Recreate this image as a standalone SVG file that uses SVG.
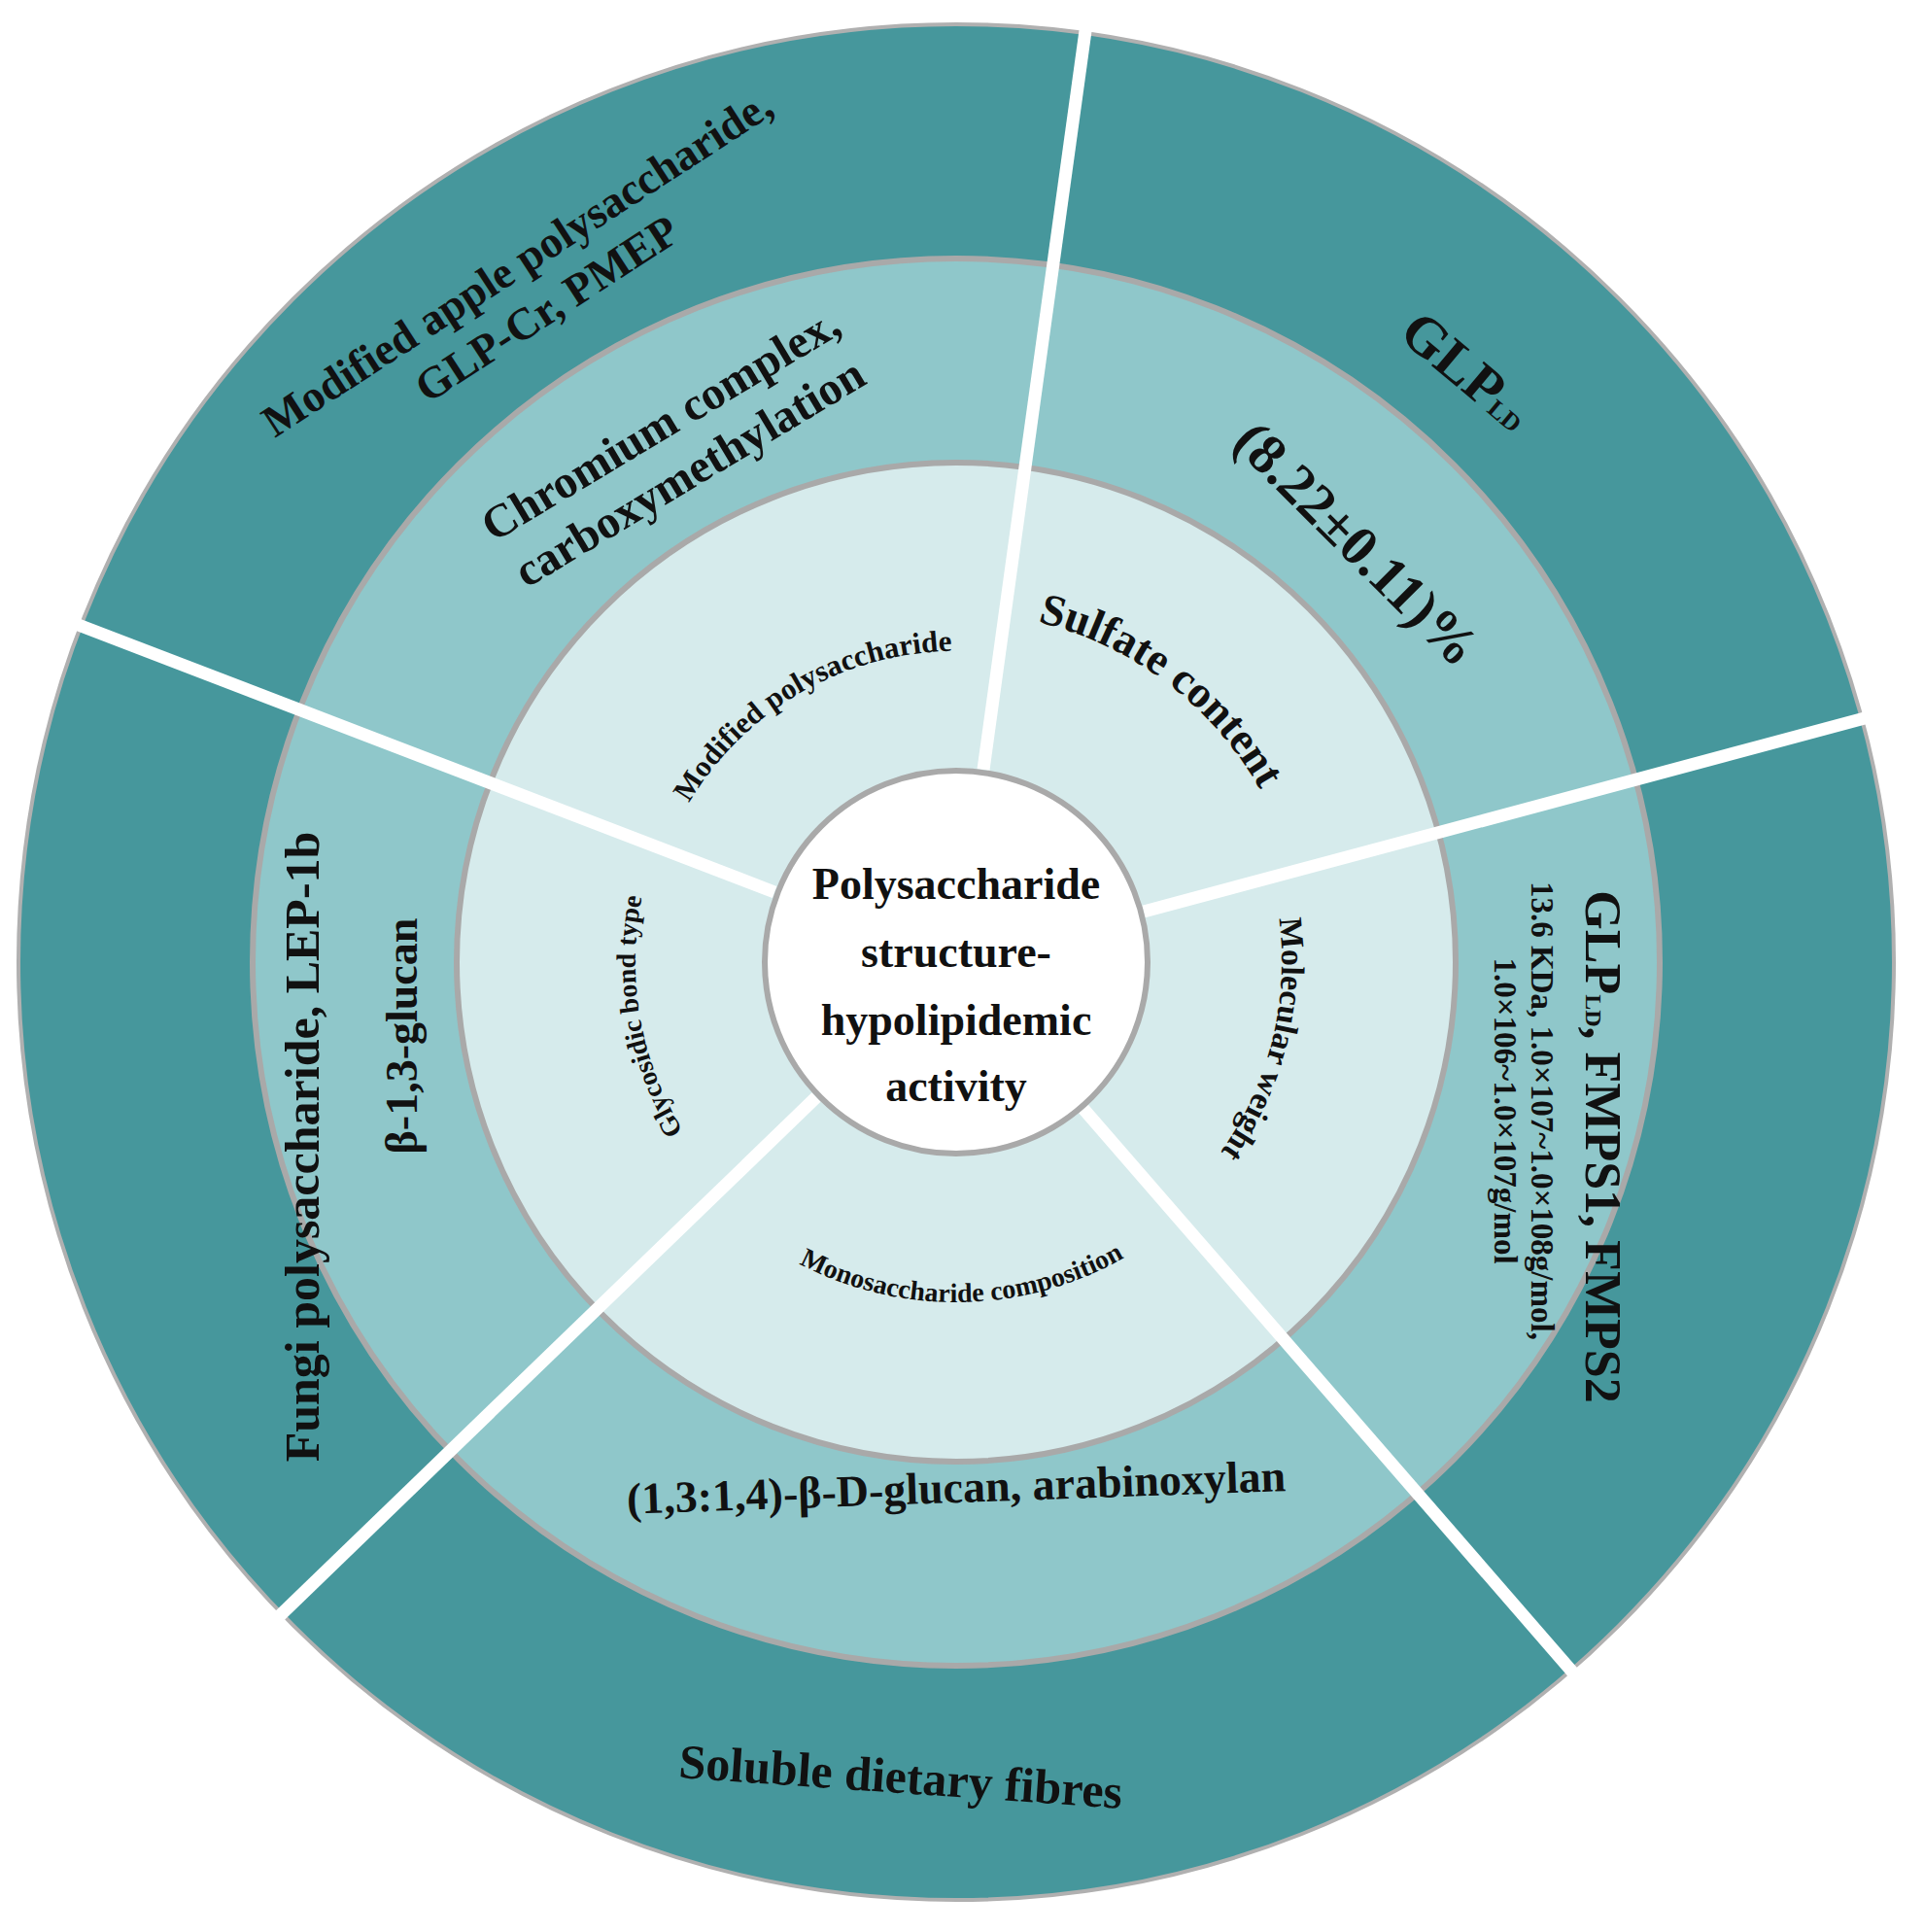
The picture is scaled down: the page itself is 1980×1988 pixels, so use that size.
<svg xmlns="http://www.w3.org/2000/svg" xmlns:xlink="http://www.w3.org/1999/xlink" width="1980" height="1988" viewBox="0 0 1980 1988">
<style>
text{font-family:"Liberation Serif","Times New Roman",serif;font-weight:bold;fill:#111}
.sep{stroke:#fff;stroke-width:13;stroke-linecap:butt}
</style>
<defs>
<path id="p1" d="M669,934 A320,320 0 0 1 1093,689"/>
<path id="p2" d="M903,639 A360,360 0 0 1 1343,971"/>
<path id="p3" d="M1255,793 A335,335 0 0 1 1131,1291"/>
<path id="p4" d="M819,1276 A330,330 0 0 1 731,778"/>
<path id="p5" d="M720,1220 A350,350 0 0 0 1256,1210"/>
</defs>
<rect width="1980" height="1988" fill="#fff"/>
<g id="rings">
<circle cx="984" cy="990" r="965" fill="#46979c" stroke="#b0b0b0" stroke-width="4"/>
<circle cx="984" cy="990" r="724" fill="#8fc7ca" stroke="#a9a9a9" stroke-width="6"/>
<circle cx="984" cy="990" r="514" fill="#d6ebec" stroke="#a9a9a9" stroke-width="6"/>
</g>
<g id="connectors">
<line class="sep" x1="1012" y1="792" x2="1120" y2="10"/>
<line class="sep" x1="1177" y1="938" x2="1945" y2="732"/>
<line class="sep" x1="1115" y1="1141" x2="1630" y2="1734"/>
<line class="sep" x1="840" y1="1129" x2="275" y2="1675"/>
<line class="sep" x1="797" y1="918" x2="65" y2="637"/>
</g>
<g id="center">
<circle cx="984" cy="990" r="197" fill="#fff" stroke="#a9a9a9" stroke-width="6"/>
<text text-anchor="middle" font-size="46"><tspan x="984" y="925">Polysaccharide</tspan><tspan x="984" y="995">structure-</tspan><tspan x="984" y="1065">hypolipidemic</tspan><tspan x="984" y="1133">activity</tspan></text>
</g>
<g id="seg-modified">
<text font-size="31"><textPath href="#p1" xlink:href="#p1" startOffset="50%" text-anchor="middle">Modified polysaccharide</textPath></text>
<text transform="translate(692,457) rotate(-31)" text-anchor="middle" font-size="48"><tspan x="0" y="-8">Chromium complex,</tspan><tspan x="0" y="50">carboxymethylation</tspan></text>
<text transform="translate(546,292) rotate(-33)" text-anchor="middle" font-size="46"><tspan x="0" y="-10">Modified apple polysaccharide,</tspan><tspan x="0" y="46">GLP-Cr, PMEP</tspan></text>
</g>
<g id="seg-sulfate">
<text font-size="46"><textPath href="#p2" xlink:href="#p2" startOffset="50%" text-anchor="middle">Sulfate content</textPath></text>
<text transform="translate(1397,559) rotate(45)" text-anchor="middle" font-size="58" y="20">(8.22±0.11)%</text>
<text transform="translate(1510,381) rotate(40)" text-anchor="middle" font-size="58" y="20">GLP<tspan font-size="26">LD</tspan></text>
</g>
<g id="seg-mw">
<text font-size="34"><textPath href="#p3" xlink:href="#p3" startOffset="50%" text-anchor="middle">Molecular weight</textPath></text>
<text transform="translate(1568,1143) rotate(90)" text-anchor="middle" font-size="33"><tspan x="0" y="-8">13.6 KDa, 1.0×107~1.0×108g/mol,</tspan><tspan x="0" y="30">1.0×106~1.0×107g/mol</tspan></text>
<text transform="translate(1650,1180) rotate(90)" text-anchor="middle" font-size="52" y="18">GLP<tspan font-size="24">LD</tspan>, FMPS1, FMPS2</text>
</g>
<g id="seg-mono">
<text font-size="28"><textPath href="#p5" xlink:href="#p5" startOffset="50%" text-anchor="middle">Monosaccharide composition</textPath></text>
<text transform="translate(984,1530) rotate(-2)" text-anchor="middle" font-size="46" y="16">(1,3:1,4)-β-D-glucan, arabinoxylan</text>
<text transform="translate(927,1828) rotate(4)" text-anchor="middle" font-size="50" y="17">Soluble dietary fibres</text>
</g>
<g id="seg-glyco">
<text font-size="28"><textPath href="#p4" xlink:href="#p4" startOffset="50%" text-anchor="middle">Glycosidic bond type</textPath></text>
<text transform="translate(413,1066) rotate(-90)" text-anchor="middle" font-size="46" y="16">β-1,3-glucan</text>
<text transform="translate(311,1180) rotate(-90)" text-anchor="middle" font-size="50" y="17">Fungi polysaccharide, LEP-1b</text>
</g>
</svg>
